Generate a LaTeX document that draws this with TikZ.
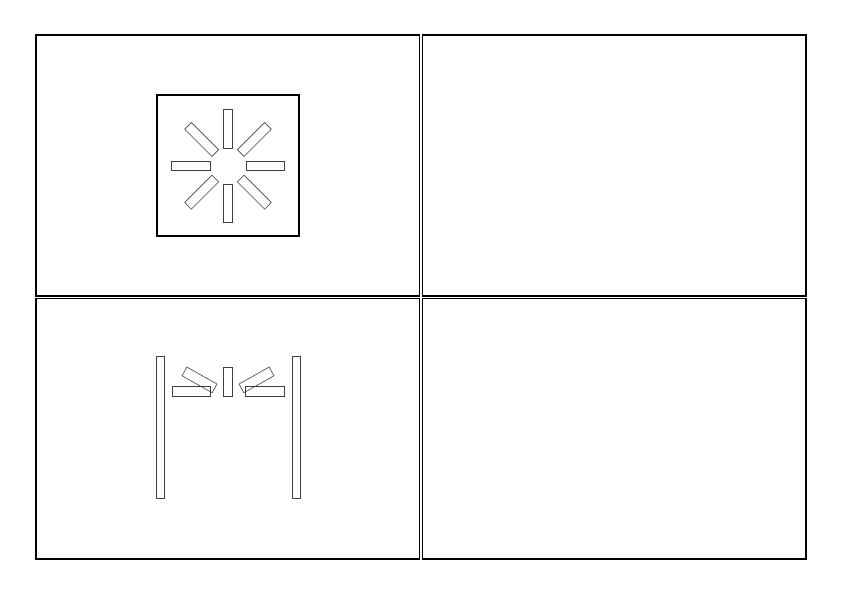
\documentclass[tikz,border=0pt]{standalone}
\begin{document}
\begin{tikzpicture}[x=1pt,y=-1pt,
  panel/.style={draw=black,line width=1.1pt},
  frame/.style={draw=black,line width=1.1pt},
  bar/.style={draw=black!75,line width=0.6pt}]
\useasboundingbox (0,0) rectangle (842,595);
% panels
\draw[panel] (36,35) rectangle (419.6,296);
\draw[panel] (422.4,35) rectangle (806,296);
\draw[panel] (36,298.4) rectangle (419.6,559);
\draw[panel] (422.4,298.4) rectangle (806,559);
% top-left: square with radial bars
\draw[frame] (157,95) rectangle (299,236);
\foreach \a in {0,45,...,315}{
  \draw[bar,shift={(228,165.8)},rotate=\a] (18,-4.75) rectangle (56.5,4.75);
}
% bottom-left: posts and bars
\draw[bar] (156.7,356) rectangle (164.7,498.3);
\draw[bar] (292.3,356) rectangle (300.7,498.3);
\draw[bar] (223.3,367.3) rectangle (232.7,396.7);
\draw[bar] (172,386.7) rectangle (210.5,396.7);
\draw[bar] (245.5,386.7) rectangle (284,396.7);
\draw[bar] (212.05,392.74) -- (216.97,384.04) -- (186.95,367.06) -- (182.03,375.76) -- cycle;
\draw[bar] (243.95,392.74) -- (239.03,384.04) -- (269.05,367.06) -- (273.97,375.76) -- cycle;
\end{tikzpicture}
\end{document}
